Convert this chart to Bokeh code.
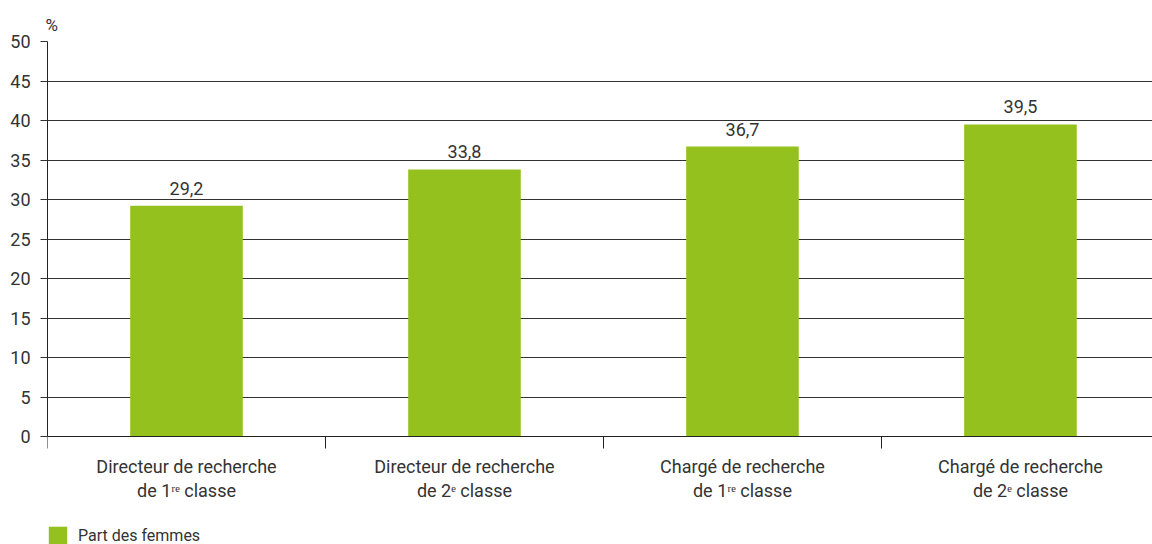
from bokeh.plotting import figure
from bokeh.models import Range1d, FixedTicker, ColumnDataSource, Legend, LegendItem, Title
from bokeh.embed import file_html
from bokeh.resources import INLINE
from bokeh.core.properties import value

categories = [
    "Directeur de recherche\nde 1ʳᵉ classe",
    "Directeur de recherche\nde 2ᵉ classe",
    "Chargé de recherche\nde 1ʳᵉ classe",
    "Chargé de recherche\nde 2ᵉ classe",
]
values = [29.2, 33.8, 36.7, 39.5]
y_ticks = [0, 5, 10, 15, 20, 25, 30, 35, 40, 45, 50]
series_name = "Part des femmes"
unit = "%"

FONT = "Roboto"
TXT = "#333333"
GREEN = "#95c11f"

# layout: 395 px for the 0..50 data band, 108 px below it for labels and legend
PLOT_PX = 395
BELOW_PX = 108
y_max = 50
y_min = -BELOW_PX / PLOT_PX * y_max

x = [i + 0.5 for i in range(len(categories))]
labels = [f"{v:.1f}".replace(".", ",") for v in values]
src = ColumnDataSource(dict(x=x, top=values, label=labels))

p = figure(frame_width=1105, frame_height=PLOT_PX + BELOW_PX, output_backend="svg",
           toolbar_location=None,
           x_range=Range1d(0, len(categories) - 0.025), y_range=Range1d(y_min, y_max),
           min_border_left=47, min_border_right=0, min_border_top=41, min_border_bottom=0)
p.outline_line_color = None
p.background_fill_color = "white"
p.border_fill_color = "white"

r = p.vbar(x="x", top="top", bottom=0, width=0.405, source=src, color=GREEN, line_color=None)
p.text(x="x", y="top", text="label", source=src, text_align="center", text_baseline="bottom",
       y_offset=-11, text_font=value(FONT), text_font_size="18px", text_color=TXT)

# x axis, drawn at y = 0
xa = p.xaxis[0]
xa.fixed_location = 0
xa.ticker = FixedTicker(ticks=x, minor_ticks=list(range(len(categories) + 1)))
xa.major_label_overrides = {xi: c for xi, c in zip(x, categories)}
xa.major_tick_line_color = None
xa.major_tick_out = 0
xa.major_tick_in = 0
xa.minor_tick_out = 12
xa.minor_tick_in = 0
xa.minor_tick_line_color = "#222222"
xa.axis_line_color = "#222222"
xa.major_label_standoff = 7
xa.major_label_text_font = FONT
xa.major_label_text_font_size = "18px"
xa.major_label_text_line_height = 1.15
xa.major_label_text_color = TXT

# y axis
ya = p.yaxis[0]
ya.bounds = (0, y_max)
ya.ticker = FixedTicker(ticks=y_ticks)
ya.major_tick_out = 7
ya.major_tick_in = 0
ya.minor_tick_line_color = None
ya.major_tick_line_color = "#333333"
ya.axis_line_color = "#222222"
ya.major_label_standoff = 10
ya.major_label_text_font = FONT
ya.major_label_text_font_size = "18px"
ya.major_label_text_color = TXT

p.xgrid.grid_line_color = None
p.ygrid.grid_line_color = "#333333"
p.ygrid.grid_line_width = 1

p.add_layout(Title(text=unit, align="left", offset=-2, standoff=14,
                   text_font=FONT, text_font_size="17px", text_font_style="normal",
                   text_color=TXT), "above")

legend = Legend(items=[LegendItem(label=series_name, renderers=[r])],
                location=(-1, -2), orientation="horizontal", glyph_width=23, glyph_height=22,
                label_text_font=FONT, label_text_font_size="16px", label_text_color=TXT,
                border_line_color=None, background_fill_alpha=0, margin=0, padding=0,
                label_standoff=9)
p.add_layout(legend)

open("out.html", "w").write(file_html(p, INLINE))
